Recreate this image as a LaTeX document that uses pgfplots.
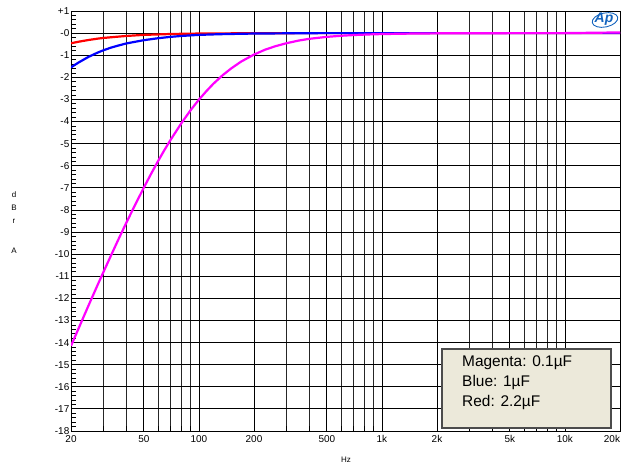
\documentclass[border=0pt]{standalone}
\usepackage{fontspec}
\setmainfont{Liberation Sans}
\usepackage{pgfplots}
\pgfplotsset{compat=1.18}
\definecolor{legbg}{RGB}{236,233,218}
\definecolor{apblue}{RGB}{20,100,190}
\definecolor{cmag}{RGB}{255,0,255}
\definecolor{cred}{RGB}{255,0,0}
\definecolor{cblue}{RGB}{0,0,255}
\begin{document}
\begin{tikzpicture}
\path[use as bounding box] (-71bp,-35bp) rectangle (552bp,431bp);
\begin{axis}[
  at={(0,0)}, anchor=south west,
  scale only axis, width=549bp, height=420bp,
  xmode=log, xmin=20, xmax=20000, ymin=-18, ymax=1,
  xtick={20,50,100,200,500,1000,2000,5000,10000,20000},
  xticklabels={20,50,100,200,500,1k,2k,5k,10k,\makebox[0pt][r]{20k}},
  minor xtick={30,40,60,70,80,90,300,400,600,700,800,900,3000,4000,6000,7000,8000,9000},
  ytick={-18,-17,...,1},
  yticklabels={-18,-17,-16,-15,-14,-13,-12,-11,-10,-9,-8,-7,-6,-5,-4,-3,-2,-1,-0,+1},
  minor y tick num=4,
  xmajorgrids, xminorgrids, ymajorgrids,
  major grid style={black, line width=0.8bp},
  minor grid style={black!85, line width=0.8bp},
  axis line style={black, line width=0.9bp},
  tick pos=left, tick align=inside,
  major tick length=0bp, minor tick length=5bp,
  tick style={black, line width=0.7bp},
  /pgf/number format/assume math mode=true,
  yticklabel style={font=\fontsize{10}{11}\selectfont, inner sep=1.5bp},
  xticklabel style={font=\fontsize{10}{11}\selectfont, inner sep=2bp, yshift=-2bp},
  clip=true,
]
\addplot[cred, line width=2.2bp] coordinates {
(20,-0.46) (22,-0.39) (25,-0.31) (28,-0.25) (30,-0.22) (35,-0.17) (40,-0.13)
(50,-0.08) (60,-0.06) (70,-0.04) (100,-0.02) (200,-0.005) (500,0) (20000,0)};
\addplot[cblue, line width=2.2bp] coordinates {
(20,-1.55) (22,-1.33) (25,-1.07) (28,-0.88) (30,-0.78) (33,-0.66) (36,-0.57)
(40,-0.47) (45,-0.39) (50,-0.32) (60,-0.23) (70,-0.17) (80,-0.13) (100,-0.08)
(130,-0.05) (170,-0.03) (200,-0.02) (300,-0.01) (500,0) (20000,0)};
\addplot[cmag, line width=2.2bp] coordinates {
(20,-14.15) (22,-13.36) (25,-12.30) (28,-11.38) (30,-10.83) (33,-10.08) (36,-9.40)
(40,-8.60) (45,-7.74) (50,-6.99) (55,-6.34) (60,-5.77) (65,-5.27) (70,-4.83)
(80,-4.09) (90,-3.49) (100,-3.01) (110,-2.62) (120,-2.29) (135,-1.90) (150,-1.60)
(170,-1.29) (200,-0.97) (230,-0.75) (260,-0.60) (300,-0.46) (350,-0.34) (400,-0.26)
(500,-0.17) (600,-0.12) (700,-0.088) (850,-0.06) (1000,-0.043) (1500,-0.019)
(2000,-0.011) (3000,-0.005) (5000,-0.002) (7000,-0.001) (10000,0) (20000,0.03)};
\end{axis}
% legend box
\draw[fill=legbg, draw=black!70, line width=1.2bp] (371bp,3bp) rectangle (540bp,82bp);
\node[anchor=north west, align=left, inner sep=0pt, font=\fontsize{15.5}{20}\selectfont] at (391bp,75bp)
 {Magenta: 0.1µF\\Blue: 1µF\\Red: 2.2µF};
% Ap logo
\draw[apblue, line width=0.9bp, rotate around={12:(534bp,411bp)}] (534bp,411bp) ellipse (13bp and 7bp);
\node[apblue, font=\fontsize{14}{14}\selectfont\bfseries\itshape, inner sep=0pt] at (533bp,412bp) {Ap};
% axis titles
\node[font=\fontsize{8}{8}\selectfont] at (275bp,-29bp) {Hz};
\node[font=\fontsize{8}{8}\selectfont] at (-57bp,236bp) {d};
\node[font=\fontsize{8}{8}\selectfont] at (-57bp,223bp) {B};
\node[font=\fontsize{8}{8}\selectfont] at (-57bp,210bp) {r};
\node[font=\fontsize{8}{8}\selectfont] at (-57bp,180bp) {A};
\end{tikzpicture}
\end{document}
